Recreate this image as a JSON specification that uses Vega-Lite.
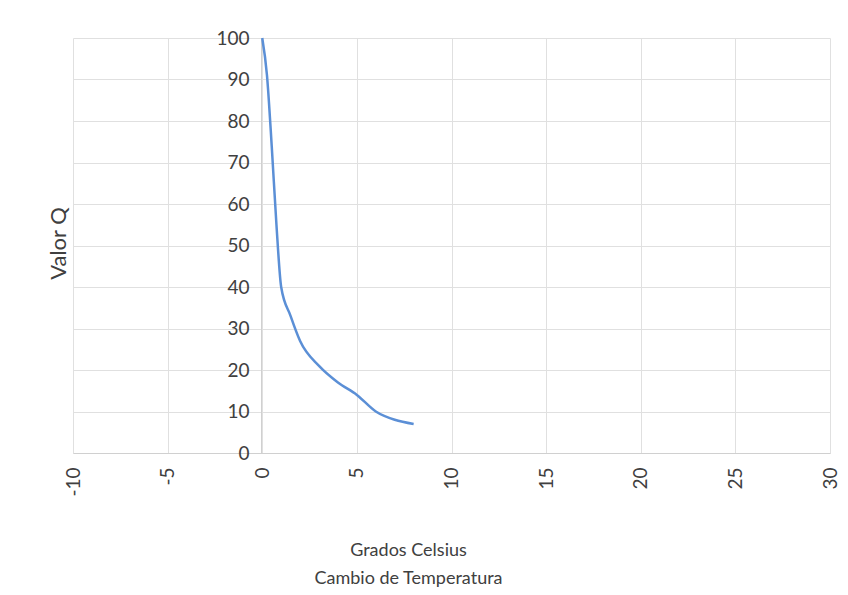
{
  "$schema": "https://vega.github.io/schema/vega-lite/v6.json",
  "autosize": "none",
  "width": 757,
  "height": 415,
  "padding": {"left": 73, "top": 38, "right": 18, "bottom": 142},
  "background": "white",
  "config": {
    "view": {"stroke": null},
    "font": "Lato",
    "axis": {
      "labelFont": "Lato",
      "titleFont": "Lato",
      "labelColor": "#404040",
      "titleColor": "#404040",
      "labelFontSize": 19,
      "titleFontSize": 18,
      "titleFontWeight": "normal",
      "gridColor": "#e0e0e0",
      "gridWidth": 1,
      "domainColor": "#d0d0d0",
      "ticks": false
    }
  },
  "data": {
    "values": [
      {"t": 0, "q": 100},
      {"t": 0.25, "q": 91},
      {"t": 0.5, "q": 74},
      {"t": 0.75, "q": 55},
      {"t": 1, "q": 40},
      {"t": 1.5, "q": 33},
      {"t": 2, "q": 27},
      {"t": 3, "q": 21},
      {"t": 4, "q": 17},
      {"t": 5, "q": 14},
      {"t": 6, "q": 10},
      {"t": 7, "q": 8},
      {"t": 8, "q": 7}
    ]
  },
  "mark": {"type": "line", "color": "#5b8fd6", "strokeWidth": 2.5, "interpolate": "monotone"},
  "encoding": {
    "x": {
      "field": "t",
      "type": "quantitative",
      "scale": {"domain": [-10, 30], "nice": false, "zero": false},
      "axis": {
        "values": [-10, -5, 0, 5, 10, 15, 20, 25, 30],
        "labelExpr": "'' + datum.value",
        "labelAngle": 270,
        "labelPadding": 14,
        "title": ["Grados Celsius", "Cambio de Temperatura"],
        "titleX": 335,
        "titleY": 88,
        "titleBaseline": "top",
        "titleLineHeight": 28,
        "domain": true
      }
    },
    "y": {
      "field": "q",
      "type": "quantitative",
      "scale": {"domain": [0, 100], "nice": false},
      "axis": {
        "values": [0, 10, 20, 30, 40, 50, 60, 70, 80, 90, 100],
        "offset": -188,
        "labelPadding": 12,
        "title": "Valor Q",
        "titleFontSize": 22,
        "titleX": -203,
        "titleY": 205,
        "titleAngle": 270,
        "titleBaseline": "middle",
        "titleAlign": "center"
      }
    }
  }
}
